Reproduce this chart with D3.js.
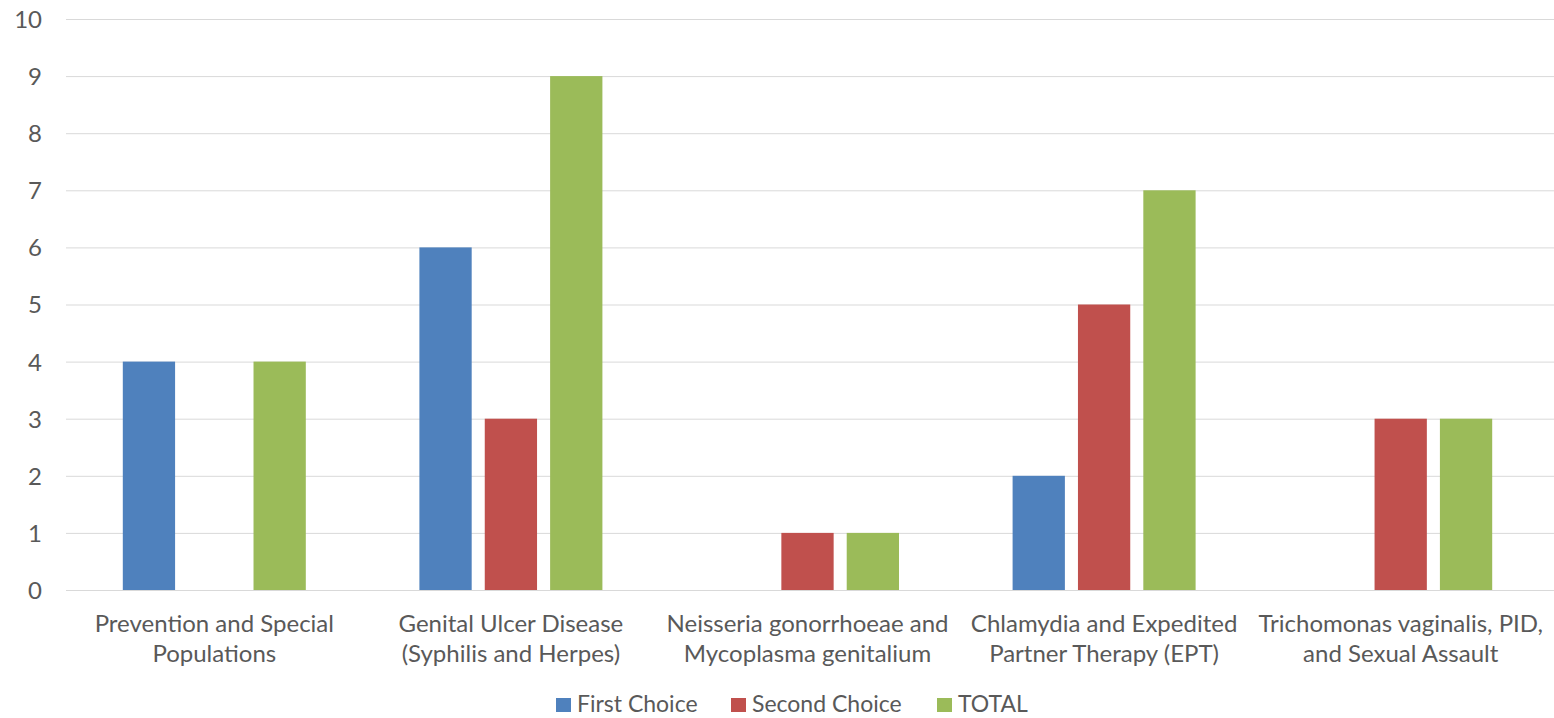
<!DOCTYPE html>
<html>
<head>
<meta charset="utf-8">
<script src="https://cdn.jsdelivr.net/npm/d3@7"></script>
<style>
  html, body { margin: 0; padding: 0; background: #fff; }
  svg { display: block; }
  text { font-family: Lato, "Open Sans", sans-serif; fill: #595959; }
</style>
</head>
<body>
<svg id="chart" width="1554" height="718"></svg>
<script>
// Topic areas and the vote counts for each
const categories = [
  ["Prevention and Special", "Populations"],
  ["Genital Ulcer Disease", "(Syphilis and Herpes)"],
  ["Neisseria gonorrhoeae and", "Mycoplasma genitalium"],
  ["Chlamydia and Expedited", "Partner Therapy (EPT)"],
  ["Trichomonas vaginalis, PID,", "and Sexual Assault"]
];
const seriesNames = ["First Choice", "Second Choice", "TOTAL"];
const seriesColors = ["#4F81BD", "#C0504D", "#9BBB59"];
const firstChoice  = [4, 6, 0, 2, 0];
const secondChoice = [0, 3, 1, 5, 3];
const total        = [4, 9, 1, 7, 3];
const yTicks = [0, 1, 2, 3, 4, 5, 6, 7, 8, 9, 10];

const series = [firstChoice, secondChoice, total];
const svg = d3.select("#chart");

const plot = { left: 66, right: 1549, top: 19, bottom: 590 };
const fontSize = "24px";

const catKeys = categories.map((c, i) => i);
const x0 = d3.scaleBand().domain(catKeys).range([plot.left, plot.right]).padding(0);
const outer = x0.bandwidth() * 0.1915;
const x1 = d3.scaleBand().domain(d3.range(series.length))
  .range([outer, x0.bandwidth() - outer]).paddingInner(0.2).paddingOuter(0);
const y = d3.scaleLinear().domain([0, 10]).range([plot.bottom, plot.top]);

// Gridlines
svg.append("g")
  .selectAll("line")
  .data(yTicks)
  .join("line")
  .attr("x1", plot.left).attr("x2", 1554)
  .attr("y1", d => y(d) + 0.5).attr("y2", d => y(d) + 0.5)
  .attr("stroke", "#d9d9d9").attr("stroke-width", 1);

// Y axis labels
const yAxis = d3.axisLeft(y).tickValues(yTicks).tickSize(0).tickPadding(0);
const gy = svg.append("g").attr("transform", `translate(42,0)`).call(yAxis);
gy.select(".domain").remove();
gy.selectAll("text").style("font-size", fontSize).attr("fill", "#595959")
  .style("font-family", "Lato, 'Open Sans', sans-serif").attr("dy", "0.35em");

// Bars
const groups = svg.append("g").selectAll("g")
  .data(catKeys)
  .join("g")
  .attr("transform", d => `translate(${x0(d)},0)`);

groups.selectAll("rect")
  .data(ci => series.map((s, si) => ({ si, v: s[ci] })))
  .join("rect")
  .attr("x", d => x1(d.si))
  .attr("width", x1.bandwidth())
  .attr("y", d => y(d.v))
  .attr("height", d => y(0) - y(d.v))
  .attr("fill", d => seriesColors[d.si]);

// Category labels (two lines each)
const xl = svg.append("g");
categories.forEach((lines, i) => {
  const cx = x0(i) + x0.bandwidth() / 2;
  const t = xl.append("text")
    .attr("x", cx)
    .attr("y", 632)
    .attr("text-anchor", "middle")
    .style("font-size", fontSize);
  lines.forEach((ln, k) => {
    t.append("tspan")
      .attr("x", cx)
      .attr("dy", k === 0 ? 0 : 30)
      .text(ln);
  });
});

// Legend
const legendX = [556, 731, 937];
const legend = svg.append("g");
seriesNames.forEach((name, i) => {
  legend.append("rect")
    .attr("x", legendX[i]).attr("y", 698)
    .attr("width", 15).attr("height", 14)
    .attr("fill", seriesColors[i]);
  legend.append("text")
    .attr("x", legendX[i] + 21).attr("y", 712)
    .style("font-size", "23px")
    .text(name);
});
</script>
</body>
</html>
